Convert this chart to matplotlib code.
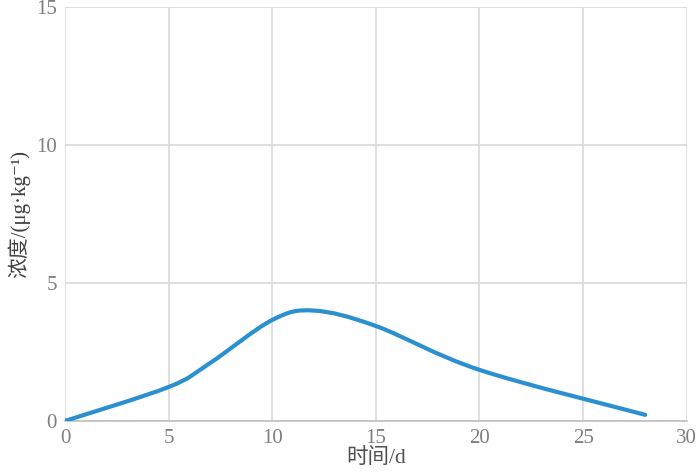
import numpy as np
import matplotlib
matplotlib.use("Agg")
from matplotlib import pyplot as plt
from matplotlib.path import Path
from matplotlib.patches import PathPatch

plt.rcParams['font.family'] = ['Liberation Serif', 'Noto Sans CJK SC', 'DejaVu Serif']

days = [0, 5, 7, 10, 12, 15, 20, 28]
conc = [0.0, 1.23, 2.1, 3.66, 4.0, 3.44, 1.85, 0.22]

xticks = [0, 5, 10, 15, 20, 25, 30]
yticks = [0, 5, 10, 15]


def smooth_path(xs, ys):
    # excel-like smoothed line: cubic bezier through every point
    pts = np.column_stack([xs, ys]).astype(float)
    n = len(pts)
    verts = [pts[0]]
    codes = [Path.MOVETO]
    for i in range(n - 1):
        p0 = pts[i - 1] if i > 0 else pts[i]
        p1 = pts[i]
        p2 = pts[i + 1]
        p3 = pts[i + 2] if i + 2 < n else pts[i + 1]
        c1 = p1 + (p2 - p0) / 6.0
        c2 = p2 - (p3 - p1) / 6.0
        verts += [c1, c2, p2]
        codes += [Path.CURVE4] * 3
    return Path(verts, codes)


fig = plt.figure(figsize=(7, 4.74), dpi=100)
ax = fig.add_axes([0.093, 0.112, 0.888, 0.873])

ax.add_patch(PathPatch(smooth_path(days, conc), facecolor='none',
                       edgecolor='#2b90d0', lw=3, capstyle='round', zorder=3))

ax.set_xlim(0, 30)
ax.set_ylim(0, 15)
ax.set_xticks(xticks)
ax.set_yticks(yticks)
ax.grid(True, color='#d9d9d9', lw=1.2)
ax.set_axisbelow(True)
for s in ['top', 'right', 'left']:
    ax.spines[s].set_visible(False)
ax.spines['bottom'].set_color('#bfbfbf')
ax.spines['bottom'].set_linewidth(1.2)
ax.tick_params(length=0, labelsize=15, labelcolor='#7f7f7f', pad=6)

ax.set_xlabel('时间/d', fontsize=15.5, color='#505050', labelpad=0)
ax.set_ylabel('浓度/(μg·kg⁻¹)', fontsize=15, color='#404040', labelpad=4)

fig.savefig('out.png', dpi=100)
